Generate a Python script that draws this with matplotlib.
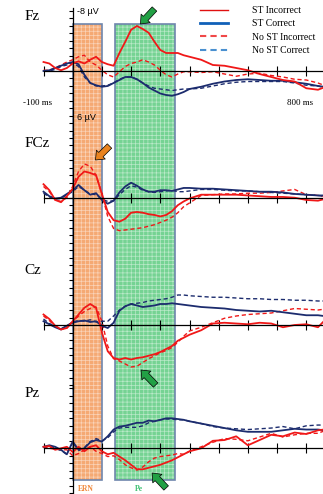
import matplotlib
matplotlib.use('Agg')
import matplotlib.pyplot as plt
from matplotlib.patches import Rectangle
from matplotlib.lines import Line2D

plt.rcParams['hatch.linewidth'] = 0.5

# time axis (ms) shared by all traces
times = [-100, -80, -60, -40, -20, 0, 20, 40, 60, 80, 100, 120, 140, 160, 180,
         200, 220, 240, 260, 280, 300, 320, 340, 360, 380, 400, 440, 480, 520,
         560, 600, 640, 680, 720, 760, 800, 840, 860]

# amplitudes in microvolts (negative plotted up)
fz_st_inc = [-1.2, -1.0, -0.4, -0.1, -0.4, -1.0, -1.3, -1.0, -1.5, -1.9, -1.2, -0.9, -0.7, -2.4, -3.9,
             -5.5, -6.0, -5.6, -5.1, -3.9, -2.8, -2.4, -2.4, -2.4, -2.1, -1.9, -1.5, -0.8, -0.7,
             -0.4, -0.1, 0.4, 0.8, 1.2, 1.4, 2.3, 2.5, 2.2]
fz_st_cor = [0.0, -0.1, -0.4, -0.7, -1.0, -1.2, -0.9, 0.5, 1.6, 1.9, 2.1, 2.0, 1.6, 1.2, 0.8,
             0.8, 1.1, 1.6, 2.2, 2.6, 3.0, 3.2, 3.3, 3.1, 2.8, 2.4, 2.1, 1.7, 1.4,
             1.2, 1.1, 1.2, 1.3, 1.3, 1.5, 1.7, 2.0, 2.1]
fz_nost_inc = [-0.1, -0.1, -0.4, -0.8, -1.2, -1.5, -1.9, -2.1, -1.2, -0.8, -0.1, 0.5, 0.8, 0.1, -0.6,
               -1.0, -1.2, -1.5, -1.2, -0.8, -0.1, 0.5, 0.8, 0.4, 0.1, 0.1, 0.2, 0.1, 0.4,
               0.7, 0.4, 0.3, 0.6, 0.8, 1.1, 1.2, 1.6, 1.9]
fz_nost_cor = [0.0, 0.0, -0.2, -0.6, -0.8, -1.1, -0.6, 0.8, 1.6, 2.0, 2.0, 1.9, 1.6, 1.1, 0.8,
               0.8, 1.1, 1.6, 2.0, 2.3, 2.4, 2.5, 2.6, 2.5, 2.4, 2.4, 2.3, 2.0, 1.7,
               1.5, 1.4, 1.4, 1.4, 1.4, 1.6, 1.9, 2.0, 2.2]

fcz_st_inc = [-1.8, -1.0, 0.3, 0.6, -0.2, -1.2, -2.8, -3.5, -3.3, -3.0, -0.5, 1.9, 3.0, 3.2, 2.8,
              2.0, 1.9, 2.0, 2.2, 2.3, 2.5, 2.3, 1.8, 1.0, 0.5, 0.1, -0.4, -0.4, -0.4,
              -0.4, -0.3, -0.2, -0.1, -0.1, 0.0, 0.3, 0.4, 0.2]
fcz_st_cor = [-0.8, -0.2, 0.1, 0.0, -0.5, -1.0, -1.7, -1.0, -0.4, -0.6, 0.3, 0.8, 0.4, -0.7, -1.5,
              -2.0, -1.6, -1.1, -0.8, -0.8, -1.0, -1.0, -0.9, -1.1, -1.3, -1.3, -1.2, -1.2, -1.1,
              -1.0, -0.9, -0.8, -0.8, -0.7, -0.5, -0.4, -0.3, -0.3]
fcz_nost_inc = [-1.5, -0.8, 0.3, 0.5, 0.0, -1.5, -3.5, -4.5, -4.2, -3.0, -0.5, 2.5, 4.1, 4.4, 4.3,
                4.2, 4.1, 4.0, 3.8, 3.6, 3.3, 3.0, 2.6, 2.0, 1.2, 0.7, -0.3, -0.4, -0.5,
                -0.5, -0.6, -0.6, -0.7, -0.9, -1.1, -0.4, -0.3, -0.2]
fcz_nost_cor = [-0.6, -0.1, 0.2, 0.1, -0.4, -0.8, -1.5, -1.0, -0.5, -0.4, 0.2, 0.5, 0.4, -0.4, -1.1,
                -1.6, -1.4, -1.0, -0.8, -0.7, -0.8, -0.9, -1.0, -0.8, -0.8, -0.9, -1.1, -1.1, -1.0,
                -0.9, -0.9, -0.8, -0.7, -0.6, -0.5, -0.4, -0.3, -0.2]

cz_st_inc = [-1.4, -0.8, 0.1, 0.6, 0.4, -0.5, -1.4, -2.3, -2.8, -2.3, 1.0, 3.5, 4.4, 4.6, 4.4,
             4.6, 4.4, 4.3, 4.1, 3.9, 3.6, 3.2, 2.8, 2.1, 1.7, 1.3, 0.7, -0.2, -0.3,
             -0.2, -0.1, -0.3, -0.2, 0.3, 0.0, -0.1, 0.3, -0.5]
cz_st_cor = [-0.5, -0.1, 0.3, 0.6, 0.1, -0.3, -0.5, -0.6, -0.4, -0.5, 0.1, 0.4, -0.3, -1.9, -2.5,
             -2.8, -2.6, -2.4, -2.5, -2.6, -2.8, -2.8, -2.9, -2.8, -2.7, -2.6, -2.4, -2.3, -2.2,
             -2.0, -1.9, -1.8, -1.9, -1.7, -1.5, -1.3, -1.3, -1.2]
cz_nost_inc = [-1.2, -0.6, 0.2, 0.6, 0.4, -0.4, -1.2, -1.8, -2.2, -2.4, -0.5, 2.8, 4.5, 4.8, 5.2,
               5.6, 5.5, 5.0, 4.5, 4.1, 3.7, 3.4, 3.0, 2.3, 1.5, 0.8, 0.3, -0.3, -0.9,
               -1.2, -1.4, -1.5, -1.6, -1.9, -2.2, -2.1, -2.0, -2.1]
cz_nost_cor = [-0.8, -0.2, 0.2, 0.5, 0.1, -0.4, -0.6, -0.5, -0.7, -0.4, -0.5, -0.5, -1.2, -2.0, -2.5,
               -2.8, -2.9, -3.0, -3.2, -3.3, -3.4, -3.5, -3.7, -4.0, -4.0, -3.9, -3.8, -3.7, -3.7,
               -3.6, -3.5, -3.5, -3.4, -3.4, -3.3, -3.3, -3.2, -3.2]

pz_st_inc = [-0.2, -0.3, 0.2, 0.0, -0.2, 0.5, -0.2, 0.4, -0.2, -0.4, 0.4, 0.8, 0.6, 1.1, 1.6,
             2.2, 2.8, 2.8, 2.6, 2.4, 2.2, 1.9, 1.6, 1.2, 0.8, 0.4, 0.0, -1.0, -1.1,
             -1.6, -0.4, -1.1, -1.8, -1.6, -2.1, -1.9, -2.4, -2.5]
pz_st_cor = [-0.2, -0.4, -0.2, 0.2, 0.8, -0.9, 0.2, 0.0, -0.8, -1.1, -0.9, -1.6, -2.5, -2.9, -3.0,
             -3.2, -3.4, -3.4, -3.7, -3.6, -3.8, -4.0, -4.0, -3.9, -3.8, -3.6, -3.3, -3.0, -2.7,
             -2.4, -2.2, -2.2, -2.2, -2.4, -2.6, -2.5, -2.5, -2.4]
pz_nost_inc = [-0.2, 0.0, 0.1, 0.2, 0.2, 1.0, 0.7, 0.2, -0.2, 0.4, 0.7, 1.1, 1.0, 1.5, 2.2,
               2.6, 2.9, 2.5, 1.8, 1.3, 1.1, 1.0, 0.9, 0.7, 0.8, 0.4, -0.2, -0.8, -1.3,
               -1.2, -1.0, -1.5, -2.0, -1.5, -1.8, -2.0, -2.0, -2.3]
pz_nost_cor = [-0.2, -0.3, 0.0, 0.3, 0.8, -0.8, 0.3, -0.1, -0.9, -1.3, -1.0, -1.4, -2.2, -2.7, -2.8,
               -2.8, -2.8, -3.0, -3.4, -3.6, -3.8, -3.9, -3.9, -3.8, -3.8, -3.6, -3.3, -2.9, -2.7,
               -2.6, -2.5, -2.6, -2.7, -2.9, -2.6, -3.0, -3.1, -3.1]

electrodes = ['Fz', 'FCz', 'Cz', 'Pz']
traces = {
    'Fz': (fz_st_inc, fz_st_cor, fz_nost_inc, fz_nost_cor),
    'FCz': (fcz_st_inc, fcz_st_cor, fcz_nost_inc, fcz_nost_cor),
    'Cz': (cz_st_inc, cz_st_cor, cz_nost_inc, cz_nost_cor),
    'Pz': (pz_st_inc, pz_st_cor, pz_nost_inc, pz_nost_cor),
}
legend_labels = ['ST Incorrect', 'ST Correct', 'No ST Incorrect', 'No ST Correct']
ern_window = (0, 100)
pe_window = (145, 350)

# layout: figure is 323 x 494 px, 0 ms at x=72.7 px, 0.292 px per ms, 7.5 px per uV
W, H = 323, 494
x0, px_ms, px_uv = 72.7, 0.292, 7.5
xlim = (-x0 / px_ms, (W - x0) / px_ms)
zero_rows = {'Fz': 71, 'FCz': 197.7, 'Cz': 325, 'Pz': 448.3}
spine_bounds = {'Fz': (-8.4, 8.5), 'FCz': (-8.5, 8.5), 'Cz': (-8.5, 8.5), 'Pz': (-8.5, 6.2)}

red = '#f01818'
navy = '#1c2c6e'
serif = 'Liberation Serif'

fig = plt.figure(figsize=(W / 100, H / 100), dpi=100)

# background: ERN / Pe windows, x in ms, y in pixels from top
bg = fig.add_axes([0, 0, 1, 1], zorder=0)
bg.set_xlim(*xlim)
bg.set_ylim(H, 0)
bg.axis('off')
box_top, box_h = 24, 456
for (t0, t1), face in [(ern_window, '#f39450'), (pe_window, '#52c878')]:
    bg.add_patch(Rectangle((t0, box_top), t1 - t0, box_h, facecolor=face, edgecolor='none', alpha=0.8))
    bg.add_patch(Rectangle((t0, box_top), t1 - t0, box_h, fill=False, hatch='++++',
                           edgecolor='white', lw=0, alpha=0.5))
    bg.add_patch(Rectangle((t0, box_top), t1 - t0, box_h, fill=False, edgecolor='#6f86ad', lw=1.2))

for name in electrodes:
    ax = fig.add_axes([0, 0, 1, 1], zorder=1)
    ax.patch.set_visible(False)
    z = zero_rows[name]
    ax.set_xlim(*xlim)
    ax.set_ylim((H - z) / px_uv, -z / px_uv)  # negative up
    st_inc, st_cor, nost_inc, nost_cor = traces[name]
    ax.plot(times, nost_inc, color=red, lw=1.0, ls=(0, (3, 2)))
    ax.plot(times, nost_cor, color=navy, lw=1.0, ls=(0, (3, 2)))
    ax.plot(times, st_cor, color=navy, lw=1.3)
    ax.plot(times, st_inc, color=red, lw=1.3)
    for s in ['top', 'right']:
        ax.spines[s].set_visible(False)
    ax.spines['bottom'].set_position(('data', 0))
    ax.spines['bottom'].set_bounds(-100, xlim[1])
    ax.spines['left'].set_position(('data', 0))
    lo, hi = spine_bounds[name]
    ax.spines['left'].set_bounds(lo, hi)
    for s in ['bottom', 'left']:
        ax.spines[s].set_linewidth(0.9)
    ax.set_xticks(range(-100, 801, 100))
    ax.set_yticks([v for v in range(-8, 9) if lo <= v <= hi])
    ax.tick_params(axis='x', direction='inout', length=7, width=0.8, labelbottom=False)
    ax.tick_params(axis='y', direction='out', length=3, width=0.8, labelleft=False)

# overlay for text, arrows and legend
ov = fig.add_axes([0, 0, 1, 1], zorder=2)
ov.patch.set_visible(False)
ov.set_xlim(*xlim)
ov.set_ylim(H, 0)
ov.axis('off')

ov.text(45, 489, 'ERN', color='#f0883a', fontsize=5.5, fontweight='bold', family=serif,
        ha='center', va='center')
ov.text(228, 489, 'Pe', color='#3cc070', fontsize=5.5, fontweight='bold', family=serif,
        ha='center', va='center')

label_rows = {'Fz': 17, 'FCz': 143, 'Cz': 270, 'Pz': 393}
for name in electrodes:
    ov.text(-165, label_rows[name], name, fontsize=11, family=serif, ha='left', va='center')

ov.text(14, 12, '-8 µV', fontsize=6.5, family='Liberation Sans', ha='left', va='center')
ov.text(14, 117, '6 µV', fontsize=6.5, family='Liberation Sans', ha='left', va='center')
ov.text(-120, 103, '-100 ms', fontsize=6.5, family=serif, ha='center', va='center')
ov.text(780, 103, '800 ms', fontsize=6.5, family=serif, ha='center', va='center')

arrows = [((280, 9), (232, 24), '#22a045'),
          ((126, 146), (78, 160), '#e9831f'),
          ((284, 385), (234, 370), '#22a045'),
          ((320, 488), (272, 473), '#22a045')]
for tail, tip, col in arrows:
    ov.annotate('', xy=tip, xytext=tail,
                arrowprops=dict(arrowstyle='simple,head_length=0.55,head_width=0.9,tail_width=0.45',
                                fc=col, ec='black', lw=0.5, shrinkA=0, shrinkB=0))

handles = [Line2D([], [], color='#e01010', lw=1.0),
           Line2D([], [], color='#1060b8', lw=2.0),
           Line2D([], [], color='#f04848', lw=1.5, ls=(0, (3, 2))),
           Line2D([], [], color='#4a90d0', lw=1.5, ls=(0, (3, 2)))]
ov.legend(handles, legend_labels, loc='upper left', bbox_to_anchor=(200 / W, 1 - 6 / H),
          frameon=False, borderpad=0, borderaxespad=0, handlelength=2.9, handletextpad=2.4,
          labelspacing=0.45, prop={'family': serif, 'size': 7})

fig.savefig('out.png', dpi=100)
